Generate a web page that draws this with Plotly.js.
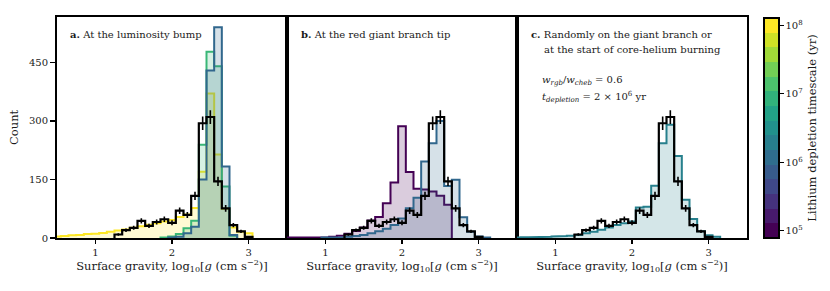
<!DOCTYPE html>
<html>
<head>
<meta charset="utf-8">
<script src="https://cdn.plot.ly/plotly-3.0.1.min.js"></script>
<style>html,body{margin:0;padding:0;background:#fff;}#chart{width:830px;height:291px;}</style>
</head>
<body>
<div id="chart"></div>
<script>
// ---- data ----
const binCenters = [0.5,0.6,0.7,0.8,0.9,1.0,1.1,1.2,1.3,1.4,1.5,1.6,1.7,1.8,1.9,2.0,2.1,2.2,2.3,2.4,2.5,2.6,2.7,2.8,2.9,3.0,3.1];
const binWidth = 0.1;
const observedCounts = [0,0,0,0,0,0,0,0,9,20,26,44,31,41,48,39,70,59,108,294,310,145,76,33,17,3,0];
// panel a: at the luminosity bump
const bumpTau1e8 = [4,5,7,8,10,11,13,16,19,22,26,30,34,38,42,46,54,60,77,170,370,214,75,27,16,12,0];
const bumpTau1e7 = [0,0,0,0,0,0,0,0,0,0,0,0,0,0,1,4,10,25,44,239,477,440,132,6,0,0,0];
const bumpTau1e6 = [0,0,0,0,0,0,0,0,0,0,0,0,0,0,0,1,3,12,29,150,429,540,183,8,0,0,0];
// panel b: at the RGB tip
const tipTau1e5 = [1,1,1,1,2,2,3,6,11,18,27,45,54,89,142,286,169,126,124,119,108,85,0,0,0,0,0];
const tipTau1e6 = [0,0,0,0,0,1,1,2,3,5,8,12,17,24,33,50,76,103,196,243,300,133,149,53,16,4,1];
// panel c: random on giant branch / start of CHeB
const randomTau2e6 = [1,2,2,3,3,4,5,6,8,12,16,21,27,33,38,42,78,80,134,243,290,210,98,49,17,7,3];
const timescaleLevels = 15;           // discrete colour levels, 1e5 .. 1e8 yr
const cbTickVals = [5,6,7,8];
const cbTickText = ['10<sup>5</sup>','10<sup>6</sup>','10<sup>7</sup>','10<sup>8</sup>'];

// ---- viridis ----
const vk = ['#440154','#482475','#414487','#355f8d','#2a788e','#21918c','#22a884','#44bf70','#7ad151','#bddf26','#fde725'];
function hex2rgb(h){return [parseInt(h.slice(1,3),16),parseInt(h.slice(3,5),16),parseInt(h.slice(5,7),16)];}
function viridis(t){
  t=Math.max(0,Math.min(1,t));
  const p=t*10, i=Math.min(9,Math.floor(p)), f=p-i;
  const a=hex2rgb(vk[i]), b=hex2rgb(vk[i+1]);
  return a.map((v,k)=>Math.round(v+(b[k]-v)*f));
}
function colFor(tau){return viridis((Math.log10(tau)-5)/3);}
function rgb(c){return 'rgb('+c.join(',')+')';}
function rgba(c,a){return 'rgba('+c.join(',')+','+a+')';}

function steps(vals){
  let i0=vals.findIndex(v=>v>0), i1=vals.length-1;
  while(i1>0 && !(vals[i1]>0)) i1--;
  const xs=[binCenters[i0]-binWidth/2], ys=[0];
  for(let i=i0;i<=i1;i++){
    xs.push(binCenters[i]-binWidth/2, binCenters[i]+binWidth/2);
    ys.push(vals[i], vals[i]);
  }
  xs.push(binCenters[i1]+binWidth/2); ys.push(0);
  return {xs, ys};
}

const traces=[];
function modelHist(vals, tau, ax){
  const s=steps(vals), c=colFor(tau);
  traces.push({type:'scatter', mode:'lines', x:s.xs, y:s.ys, xaxis:'x'+ax, yaxis:'y'+ax,
    line:{color:rgb(c), width:2}, fill:'tozeroy', fillcolor:rgba(c,0.2),
    hoverinfo:'skip', showlegend:false});
}
function obsHist(ax){
  const s=steps(observedCounts);
  traces.push({type:'scatter', mode:'lines', x:s.xs, y:s.ys, xaxis:'x'+ax, yaxis:'y'+ax,
    line:{color:'#000', width:2.2}, hoverinfo:'skip', showlegend:false});
  const xc=[], yc=[], ec=[];
  observedCounts.forEach((v,i)=>{ if(v>0){xc.push(binCenters[i]); yc.push(v); ec.push(Math.sqrt(v));} });
  traces.push({type:'scatter', mode:'markers', x:xc, y:yc, xaxis:'x'+ax, yaxis:'y'+ax,
    marker:{size:1, color:'rgba(0,0,0,0)'},
    error_y:{type:'data', array:ec, visible:true, width:0, thickness:1.6, color:'#000'},
    hoverinfo:'skip', showlegend:false});
}

modelHist(bumpTau1e8, 1e8, '');
modelHist(bumpTau1e7, 1e7, '');
modelHist(bumpTau1e6, 1e6, '');
obsHist('');
modelHist(tipTau1e5, 1e5, '2');
modelHist(tipTau1e6, 1e6, '2');
obsHist('2');
modelHist(randomTau2e6, 2e6, '3');
obsHist('3');

// colourbar (discrete viridis)
const step=3/(timescaleLevels-1);
const cmin=5-step/2, cmax=8+step/2;
const cs=[];
for(let i=0;i<timescaleLevels;i++){
  const c=rgb(viridis(i/(timescaleLevels-1)));
  cs.push([i/timescaleLevels, c]); cs.push([(i+1)/timescaleLevels, c]);
}
const FONT='DejaVu Serif';
traces.push({type:'scatter', mode:'markers', x:[-100], y:[-100], xaxis:'x3', yaxis:'y3',
  marker:{color:[6], cmin:cmin, cmax:cmax, colorscale:cs, showscale:true, size:1,
    colorbar:{x:764/830, xanchor:'left', y:1-128/291, yanchor:'middle', len:220/291, lenmode:'fraction',
      thickness:15, thicknessmode:'pixels', xpad:0, ypad:0, outlinewidth:2, outlinecolor:'#000',
      ticks:'outside', ticklen:4, tickwidth:1, tickcolor:'#000',
      tickvals:cbTickVals, ticktext:cbTickText, tickfont:{size:10, color:'#1a1a1a', family:FONT},
      title:{text:'Lithium depletion timescale (yr)', side:'right', font:{size:11.5, color:'#1a1a1a', family:FONT}}}},
  hoverinfo:'skip', showlegend:false});

const yDom=[1-238/291, 1-16.7/291];
const xTitle='Surface gravity, log<sub>10</sub>[<i>g</i> (cm s<sup>−2</sup>)]';
function xax(d){return {domain:d, range:[0.5,3.5], tickvals:[1,2,3], ticks:'outside', ticklen:4, tickwidth:1.2,
  tickcolor:'#000', showline:true, mirror:true, linecolor:'#000', linewidth:2, showgrid:false, zeroline:false,
  tickfont:{size:10, family:FONT}, title:{text:xTitle, font:{size:11.5, family:FONT}, standoff:4}};}
function yax(show, anchor){return {domain:yDom, range:[0,567], anchor:anchor, tickvals:[0,150,300,450],
  ticks:show?'outside':'', ticklen:5, tickwidth:1.2, tickcolor:'#000', showticklabels:show,
  showline:true, mirror:true, linecolor:'#000', linewidth:2, showgrid:false, zeroline:false, tickfont:{size:10, family:FONT},
  title: show?{text:'Count', font:{size:11.5, family:FONT}, standoff:8}:undefined};}

const lbl={size:10, color:'#1a1a1a', family:FONT};
const layout={
  width:830, height:291, margin:{l:0,r:0,t:0,b:0}, paper_bgcolor:'#fff', plot_bgcolor:'#fff',
  font:{family:FONT, color:'#1a1a1a'}, showlegend:false,
  xaxis:Object.assign(xax([57/830,287/830]),{anchor:'y'}),
  xaxis2:Object.assign(xax([287/830,517/830]),{anchor:'y2'}),
  xaxis3:Object.assign(xax([517/830,747/830]),{anchor:'y3'}),
  yaxis:yax(true,'x'), yaxis2:yax(false,'x2'), yaxis3:yax(false,'x3'),
  annotations:[
    {xref:'paper', yref:'paper', x:68/830, y:1-34/291, xanchor:'left', yanchor:'middle', showarrow:false, font:lbl,
     text:'<b>a.</b> At the luminosity bump'},
    {xref:'paper', yref:'paper', x:299/830, y:1-34/291, xanchor:'left', yanchor:'middle', showarrow:false, font:lbl,
     text:'<b>b.</b> At the red giant branch tip'},
    {xref:'paper', yref:'paper', x:529/830, y:1-34/291, xanchor:'left', yanchor:'middle', showarrow:false, font:lbl,
     text:'<b>c.</b> Randomly on the giant branch or'},
    {xref:'paper', yref:'paper', x:542/830, y:1-49/291, xanchor:'left', yanchor:'middle', showarrow:false, font:lbl,
     text:'at the start of core-helium burning'},
    {xref:'paper', yref:'paper', x:540/830, y:1-80/291, xanchor:'left', yanchor:'middle', showarrow:false, font:lbl,
     text:'<i>w</i><sub><i>rgb</i></sub>/<i>w</i><sub><i>cheb</i></sub> = 0.6'},
    {xref:'paper', yref:'paper', x:540/830, y:1-97/291, xanchor:'left', yanchor:'middle', showarrow:false, font:lbl,
     text:'<i>t</i><sub><i>depletion</i></sub> = 2 × 10<sup>6</sup> yr'}
  ]
};
Plotly.newPlot('chart', traces, layout, {staticPlot:true, displayModeBar:false});
</script>
</body>
</html>
